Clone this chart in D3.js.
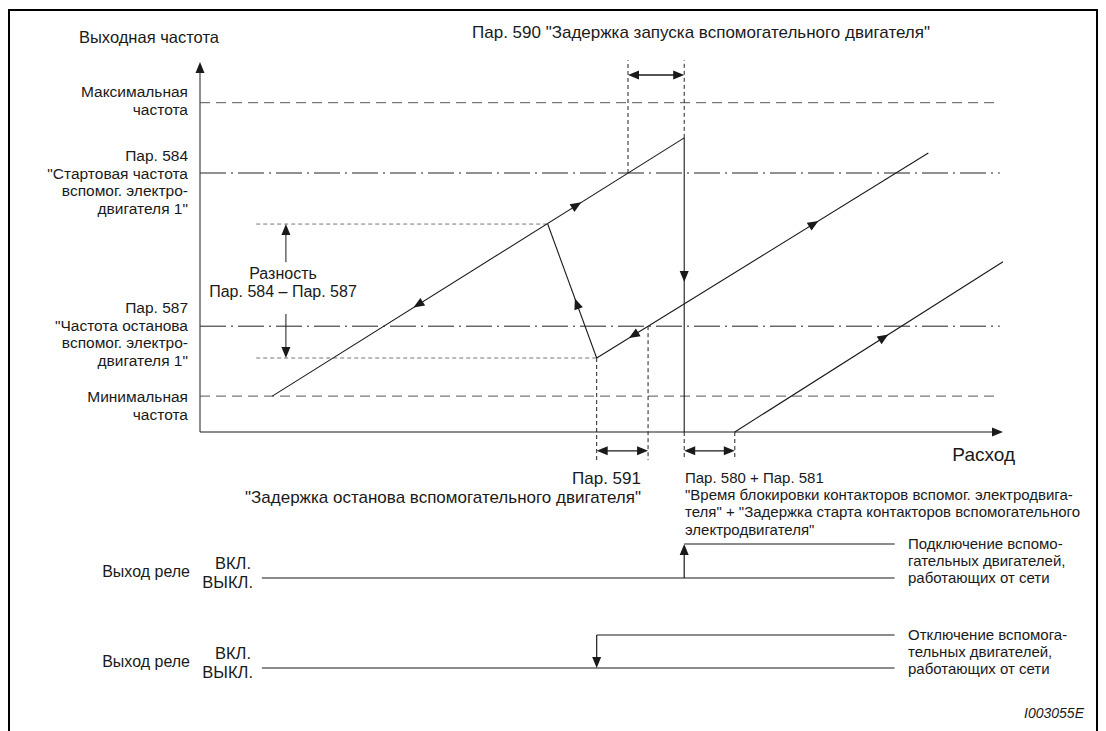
<!DOCTYPE html>
<html>
<head>
<meta charset="utf-8">
<script src="https://cdn.jsdelivr.net/npm/d3@7"></script>
<style>
  body { margin: 0; background: #fff; }
  text { font-family: "Liberation Sans", Arial, sans-serif; fill: #1a1a1a; }
</style>
</head>
<body>
<div class="chart"></div>
<script>
// frequency levels (0..100 = axis height), flow positions (0..100 = axis length)
const levelKeys = ["max", "start", "diffTop", "stop", "diffBottom", "min"];
const levelValues = [89, 70, 56.2, 28.6, 20, 9.7];

// frequency curve pieces as [flow, frequency]
const rampUp = [[9, 9.7], [60.3, 79.5]];
const returnLeg = [[43.3, 56.2], [49.4, 20]];
const rampSecond = [[49.4, 20], [90.7, 75.4]];
const dropLeg = [[60.3, 79.5], [60.3, 0]];
const rampThird = [[66.6, 0], [100, 46]];

// flow positions of delay marks
const startDelay = [53.3, 60.3];   // Пар. 590
const stopDelay = [49.4, 55.8];    // Пар. 591
const lockDelay = [60.3, 66.6];    // Пар. 580 + Пар. 581

// relay outputs: switching flow, direction
const relaySwitch = [60.3, 49.4];
const relayDir = ["on", "off"];
const relaySpan = [7.7, 86.5];

const width = 1106, height = 731;

const svg = d3.select(".chart").append("svg")
    .attr("width", width)
    .attr("height", height);

const x = d3.scaleLinear().domain([0, 100]).range([200, 1003]);
const y = d3.scaleLinear().domain([0, 100]).range([432, 62]);
const lv = k => levelValues[levelKeys.indexOf(k)];

// frame
svg.append("path")
    .attr("d", "M9,760 V10 H1097 V760")
    .attr("fill", "none").attr("stroke", "#000").attr("stroke-width", 2);

const head = (px, py, ang) => {
  // triangle with its tip at (px,py), pointing along ang
  const L = 11, W = 4.5;
  const c = Math.cos(ang), s = Math.sin(ang);
  const bx = px - c * L, by = py - s * L;
  svg.append("path")
    .attr("d", `M${px},${py} L${bx - s * W},${by + c * W} L${bx + s * W},${by - c * W} Z`)
    .attr("fill", "#1a1a1a");
};

const line = (x1, y1, x2, y2, opts = {}) => svg.append("line")
    .attr("x1", x1).attr("y1", y1).attr("x2", x2).attr("y2", y2)
    .attr("stroke", opts.color || "#1a1a1a")
    .attr("stroke-width", opts.w || 1)
    .attr("stroke-dasharray", opts.dash || null);

// horizontal level lines
const levelStyle = {
  max: { dash: "10,6", color: "#555", from: 0 },
  start: { dash: "26,5,2,5", color: "#222", from: 0 },
  stop: { dash: "26,5,2,5", color: "#222", from: 0 },
  min: { dash: "10,6", color: "#555", from: 0 },
  diffTop: { dash: "4,3", color: "#777", from: 7, to: rampUp[0][0] + (lv("diffTop") - rampUp[0][1]) / ((rampUp[1][1] - rampUp[0][1]) / (rampUp[1][0] - rampUp[0][0])) },
  diffBottom: { dash: "4,3", color: "#777", from: 7, to: returnLeg[1][0] }
};
levelKeys.forEach((k, i) => {
  const st = levelStyle[k];
  line(x(st.from), y(levelValues[i]), x(st.to == null ? 99.6 : st.to), y(levelValues[i]),
       { dash: st.dash, color: st.color });
});

// axes
line(x(0), y(0), x(0), y(100) + 8, { color: "#444", w: 1.2 });
head(x(0), y(100), -Math.PI / 2);
line(x(0), y(0), x(100) - 8, y(0), { w: 1.2 });
head(x(100), y(0), 0);

// frequency curve
const curve = d3.line().x(d => x(d[0])).y(d => y(d[1]));
[rampUp, returnLeg, rampSecond, dropLeg, rampThird].forEach(seg => {
  svg.append("path").attr("d", curve(seg)).attr("fill", "none")
    .attr("stroke", "#1a1a1a").attr("stroke-width", 1.1);
});

// direction arrows along curve: [segment, t, forward?]
const arrows = [[rampUp, 0.74, 1], [rampUp, 0.353, -1], [returnLeg, 0.59, -1],
                [rampSecond, 0.11, -1], [rampSecond, 0.656, 1], [dropLeg, 0.473, 1],
                [rampThird, 0.557, 1]];
arrows.forEach(([seg, t, dir]) => {
  const x1 = x(seg[0][0]), y1 = y(seg[0][1]), x2 = x(seg[1][0]), y2 = y(seg[1][1]);
  let ang = Math.atan2(y2 - y1, x2 - x1);
  if (dir < 0) ang += Math.PI;
  const px = x1 + (x2 - x1) * t, py = y1 + (y2 - y1) * t;
  head(px + Math.cos(ang) * 5, py + Math.sin(ang) * 5, ang);
});

// vertical guides
const guide = (f, v1, v2) => line(x(f), y(v1), x(f), y(v2), { dash: "4,3", color: "#222" });
guide(startDelay[0], lv("start"), 100.5);
guide(startDelay[1], rampUp[1][1], 100.5);
guide(stopDelay[0], lv("diffBottom"), -7.6);
guide(stopDelay[1], lv("stop"), -7.6);
guide(lockDelay[0], 0, -7.6);
guide(lockDelay[1], 0, -7.6);

const doubleArrow = (f1, f2, v) => {
  line(x(f1) + 6, y(v), x(f2) - 6, y(v), { w: 1.4 });
  head(x(f1), y(v), Math.PI);
  head(x(f2), y(v), 0);
};
doubleArrow(startDelay[0], startDelay[1], 96.5);
doubleArrow(stopDelay[0], stopDelay[1], -5.1);
doubleArrow(lockDelay[0], lockDelay[1], -5.1);

// difference arrows
line(x(10.7), y(45.9), x(10.7), y(lv("diffTop")) + 6);
head(x(10.7), y(lv("diffTop")), -Math.PI / 2);
line(x(10.7), y(31.9), x(10.7), y(lv("diffBottom")) - 6);
head(x(10.7), y(lv("diffBottom")), Math.PI / 2);

// text helper
const txt = (tx, ty, s, opts = {}) => svg.append("text")
    .attr("x", tx).attr("y", ty)
    .attr("text-anchor", opts.anchor || "start")
    .attr("font-size", opts.size || 16)
    .attr("font-style", opts.italic ? "italic" : null)
    .text(s);
const block = (tx, ty, lines, step, opts) => lines.forEach((s, i) => txt(tx, ty + i * step, s, opts));

txt(79, 43, "Выходная частота", { size: 16.5 });
block(188, 97, ["Максимальная", "частота"], 18, { anchor: "end", size: 15.5 });
block(188, 161, ["Пар. 584", "\"Стартовая частота", "вспомог. электро-", "двигателя 1\""], 17.5, { anchor: "end", size: 15.5 });
block(188, 313, ["Пар. 587", "\"Частота останова", "вспомог. электро-", "двигателя 1\""], 17.7, { anchor: "end", size: 15.5 });
block(188, 402, ["Минимальная", "частота"], 18, { anchor: "end", size: 15.5 });
block(283, 279, ["Разность", "Пар. 584 – Пар. 587"], 18, { anchor: "middle", size: 16 });

txt(472, 38, "Пар. 590 \"Задержка запуска вспомогательного двигателя\"", { size: 17 });
txt(1015, 461, "Расход", { anchor: "end", size: 19 });
block(641, 484, ["Пар. 591", "\"Задержка останова вспомогательного двигателя\""], 19, { anchor: "end", size: 17 });
block(685, 483, ["Пар. 580 + Пар. 581",
  "\"Время блокировки контакторов вспомог. электродвига-",
  "теля\" + \"Задержка старта контакторов вспомогательного",
  "электродвигателя\""], 17.2, { size: 15 });

// relay outputs
const relayBase = [578, 668], relayHigh = [544, 635];
const relayNotes = [["Подключение вспомо-", "гательных двигателей,", "работающих от сети"],
                    ["Отключение вспомога-", "тельных двигателей,", "работающих от сети"]];
relaySwitch.forEach((f, i) => {
  const yb = relayBase[i], yh = relayHigh[i];
  line(x(relaySpan[0]), yb, x(relaySpan[1]), yb, { color: "#666", w: 1.4 });
  line(x(f), yh, x(relaySpan[1]), yh, { color: "#666", w: 1.4 });
  if (relayDir[i] === "on") {
    line(x(f), yb, x(f), yh + 8, { w: 1.2 });
    head(x(f), yh, -Math.PI / 2);
  } else {
    line(x(f), yh, x(f), yb - 8, { w: 1.2 });
    head(x(f), yb, Math.PI / 2);
  }
  txt(190, yb - 1, "Выход реле", { anchor: "end", size: 16 });
  txt(251, yb - 9, "ВКЛ.", { anchor: "end", size: 16.5 });
  txt(253, yb + 10, "ВЫКЛ.", { anchor: "end", size: 16.5 });
  block(908, yh + 5, relayNotes[i], 17, { size: 15 });
});

txt(1084, 718, "I003055E", { anchor: "end", italic: true, size: 14 });
</script>
</body>
</html>
